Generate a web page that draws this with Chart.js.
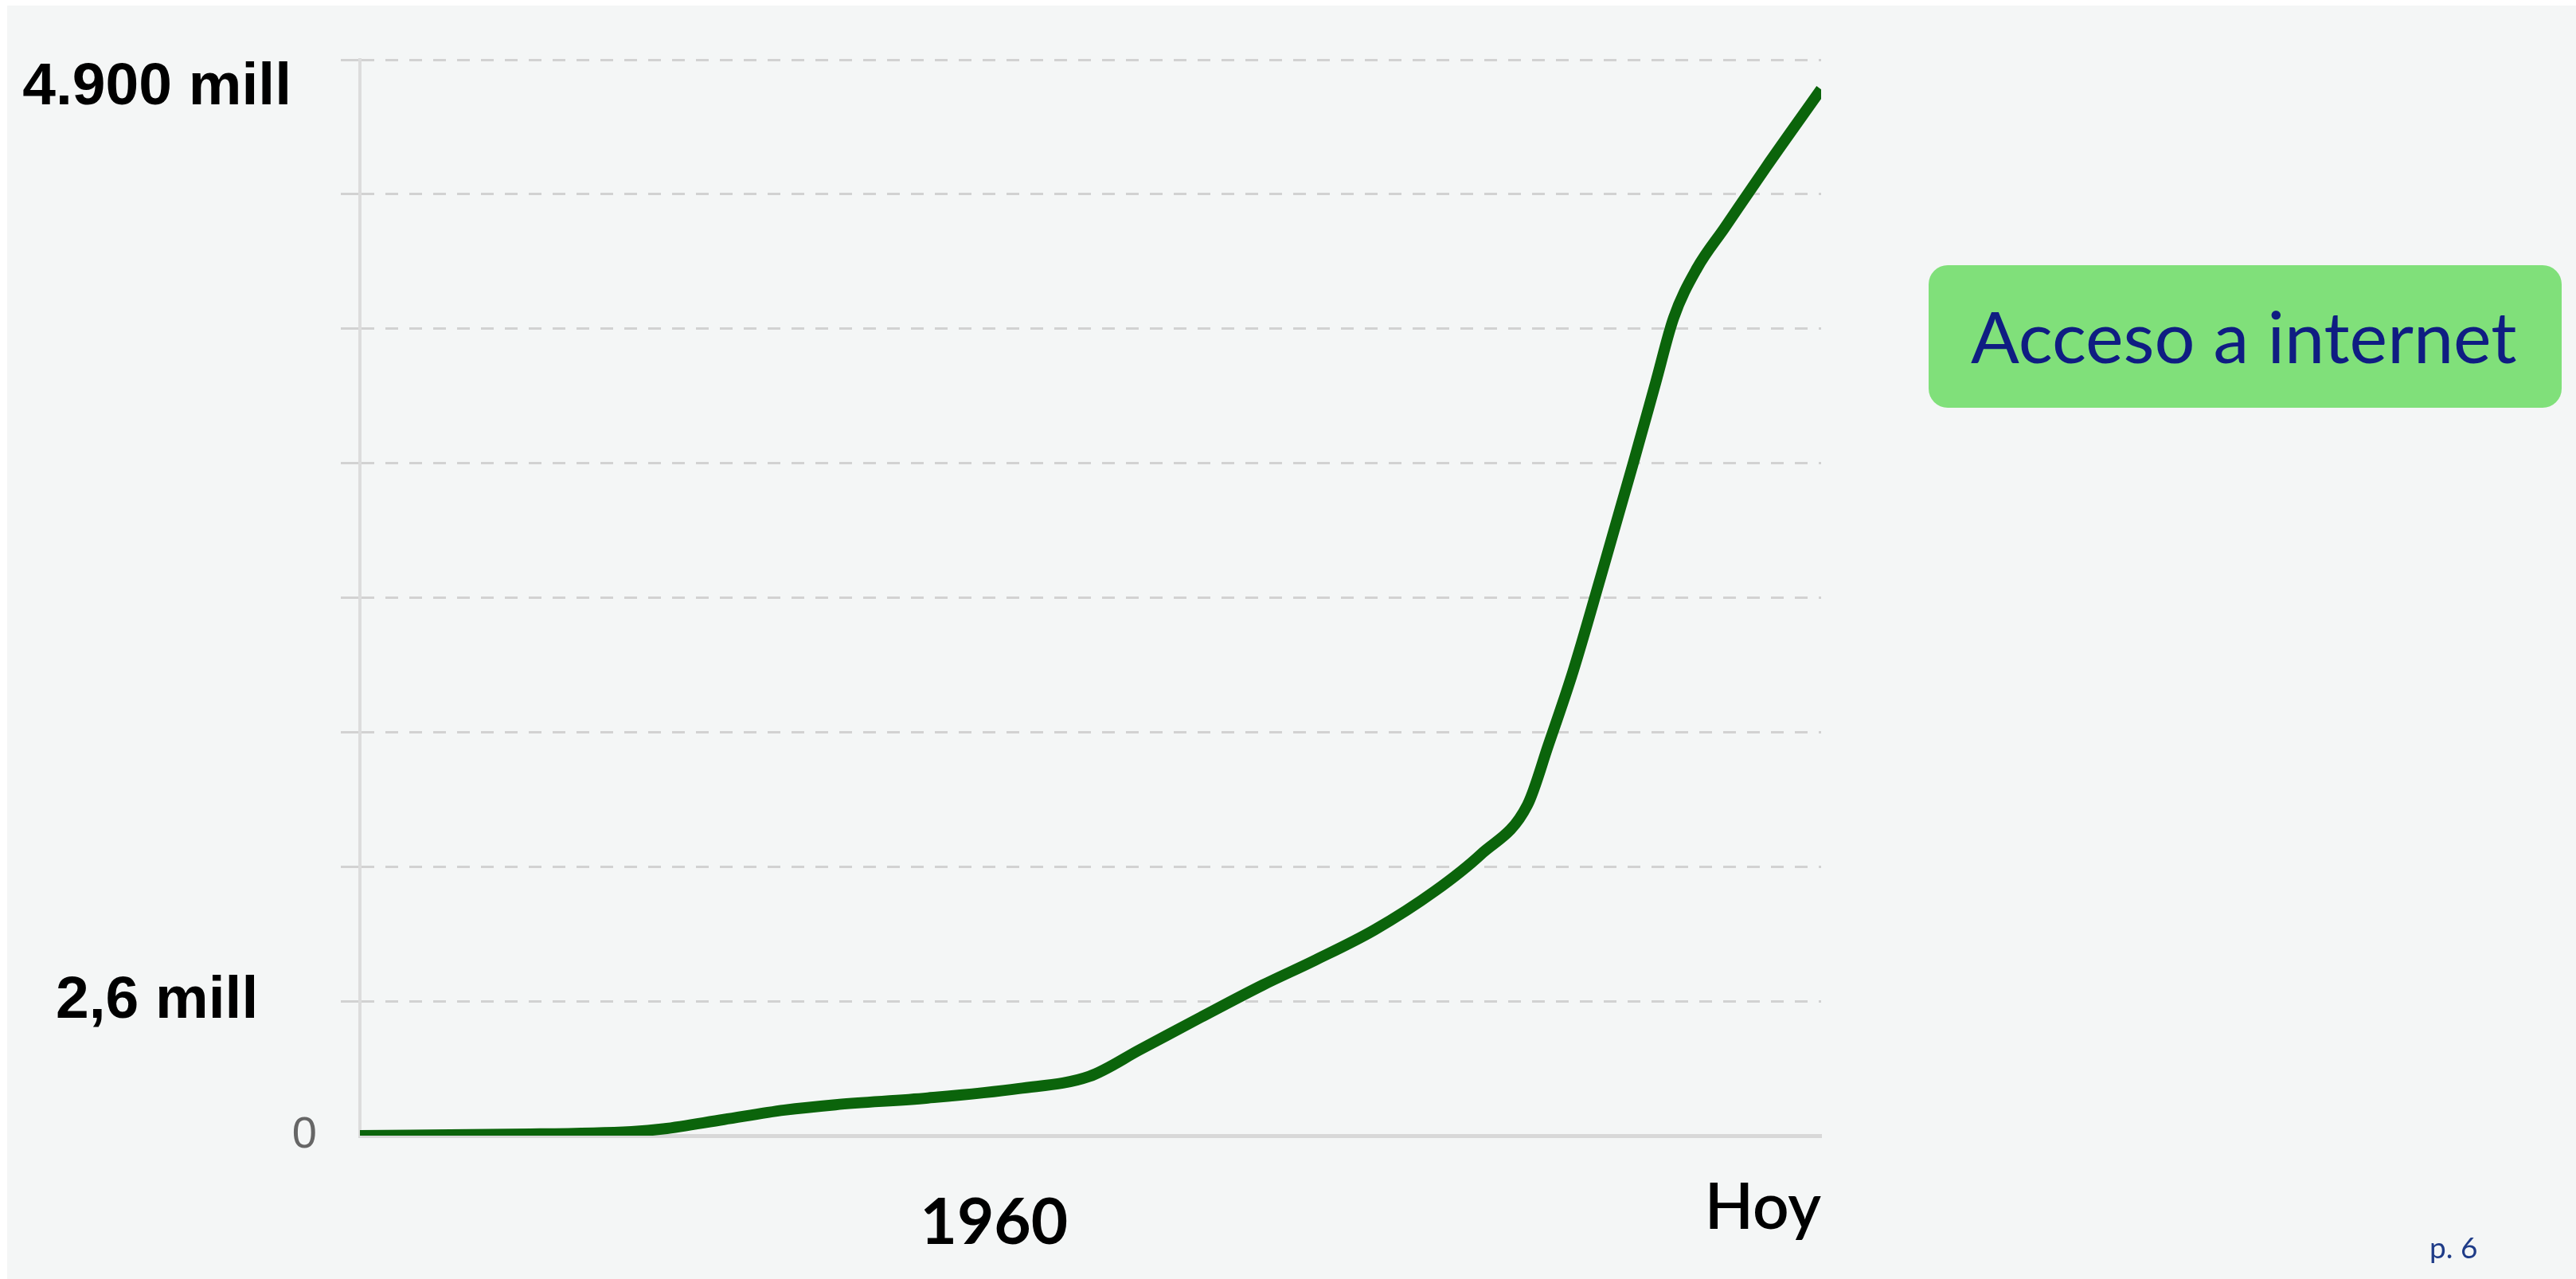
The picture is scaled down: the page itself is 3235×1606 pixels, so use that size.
<!DOCTYPE html>
<html lang="es">
<head>
<meta charset="utf-8">
<title>Acceso a internet</title>
<script src="https://cdn.jsdelivr.net/npm/chart.js@4.4.1/dist/chart.umd.min.js"></script>
<style>
    html, body {
        margin: 0;
        padding: 0;
        background: #ffffff;
    }
    body {
        position: relative;
        width: 3235px;
        height: 1606px;
        overflow: hidden;
    }
    #fondo {
        position: absolute;
        left: 9px;
        top: 7px;
        right: 0;
        bottom: 0;
        background: #f4f6f6;
    }
    #grafico {
        position: absolute;
        left: 0;
        top: 0;
    }
    #etiqueta {
        position: absolute;
        left: 2422px;
        top: 333px;
        width: 795px;
        height: 179px;
        border-radius: 24px;
        background: #80e07a;
    }
    #etiqueta span {
        position: absolute;
        left: 53px;
        top: 43px;
        font-family: Lato, sans-serif;
        font-size: 90px;
        line-height: 1;
        color: #0f1d82;
        white-space: nowrap;
    }
    #pagina {
        position: absolute;
        left: 3051px;
        top: 1547px;
        font-family: Lato, sans-serif;
        font-size: 37px;
        line-height: 1;
        color: #1f3c88;
    }
</style>
</head>
<body>
<div id="fondo"></div>
<canvas id="grafico" width="3235" height="1606"></canvas>
<div id="etiqueta"><span>Acceso a internet</span></div>
<div id="pagina">p. 6</div>

<script>
    // Datos de la curva (años y valor en unidades de la rejilla)
    const anos = [
        1914, 1924.9, 1933.7, 1936, 1940.4, 1944.8, 1948.5, 1955.2,
        1961.8, 1966.9, 1970.6, 1975, 1979.5, 1983.2, 1987.6, 1992,
        1995.3, 1998.7, 2000.2, 2002, 2004, 2006.4, 2008, 2009.3,
        2011, 2013, 2016, 2020
    ];
    const usuarios = [
        0, 0.01, 0.03, 0.05, 0.12, 0.19, 0.23, 0.28,
        0.35, 0.44, 0.64, 0.88, 1.12, 1.3, 1.53, 1.82,
        2.09, 2.46, 2.9, 3.45, 4.15, 5.01, 5.6, 6.08,
        6.45, 6.75, 7.2, 7.78
    ];

    // Etiquetas de los ejes
    const ticksX = [1914, 1960, 2020];
    const textosX = ['', '1960', 'Hoy'];
    const ticksY = [1, 8];
    const textosY = ['2,6 mill', '4.900 mill'];

    const colorRejilla = '#d2d2d2';

    const puntos = anos.map((a, i) => ({ x: a, y: usuarios[i] }));

    const grafico = new Chart(document.getElementById('grafico'), {
        type: 'line',
        data: {
            datasets: [{
                data: puntos,
                borderColor: '#0b640b',
                borderWidth: 14,
                pointRadius: 0,
                fill: false,
                cubicInterpolationMode: 'monotone'
            }]
        },
        options: {
            responsive: false,
            animation: false,
            devicePixelRatio: 1,
            layout: {
                padding: { top: 75, left: 26, right: 948, bottom: 0 }
            },
            plugins: {
                legend: { display: false },
                tooltip: { enabled: false }
            },
            scales: {
                x: {
                    type: 'linear',
                    min: 1914,
                    max: 2020,
                    afterBuildTicks: (escala) => {
                        escala.ticks = ticksX.map(v => ({ value: v }));
                    },
                    afterFit: (escala) => { escala.height = 180; },
                    grid: { display: false, drawTicks: false },
                    border: { color: '#d8d8d8', width: 5 },
                    ticks: {
                        autoSkip: false,
                        maxRotation: 0,
                        align: 'inner',
                        padding: 62,
                        color: '#000000',
                        callback: (valor) => textosX[ticksX.indexOf(valor)],
                        font: (ctx) => ctx.index === 1
                            ? { family: 'Lato', size: 80, weight: 'bold', lineHeight: 1.2 }
                            : { family: 'Lato', size: 80, weight: '600', lineHeight: 0.74 }
                    }
                },
                y: {
                    position: 'left',
                    weight: 0,
                    min: 0,
                    max: 8,
                    afterFit: (escala) => { escala.width = 86; },
                    grid: {
                        color: (ctx) => ctx.tick && ctx.tick.value === 0 ? 'rgba(0,0,0,0)' : colorRejilla,
                        lineWidth: 3,
                        tickLength: 24,
                        tickColor: (ctx) => ctx.tick && ctx.tick.value === 0 ? 'rgba(0,0,0,0)' : colorRejilla
                    },
                    // en Chart.js 4 el guion de la rejilla va en border.dash
                    border: { color: '#dcdcdc', width: 4, dash: [16, 14] },
                    ticks: {
                        stepSize: 1,
                        padding: 30,
                        color: '#666666',
                        font: { family: 'Liberation Sans', size: 56 },
                        callback: (valor) => valor === 0 ? '0' : ''
                    }
                },
                y2: {
                    position: 'left',
                    weight: 1,
                    min: 0,
                    max: 8,
                    afterBuildTicks: (escala) => {
                        escala.ticks = ticksY.map(v => ({ value: v }));
                    },
                    afterFit: (escala) => { escala.width = 340; },
                    grid: { display: false, drawTicks: false },
                    border: { display: false },
                    ticks: {
                        padding: 0,
                        crossAlign: 'center',
                        color: '#000000',
                        font: { family: 'Liberation Sans', size: 75, weight: 'bold', lineHeight: 0.94 },
                        callback: (valor) => {
                            const texto = textosY[ticksY.indexOf(valor)];
                            return valor === 8 ? ['', texto] : texto;
                        }
                    }
                }
            }
        }
    });
</script>
</body>
</html>
